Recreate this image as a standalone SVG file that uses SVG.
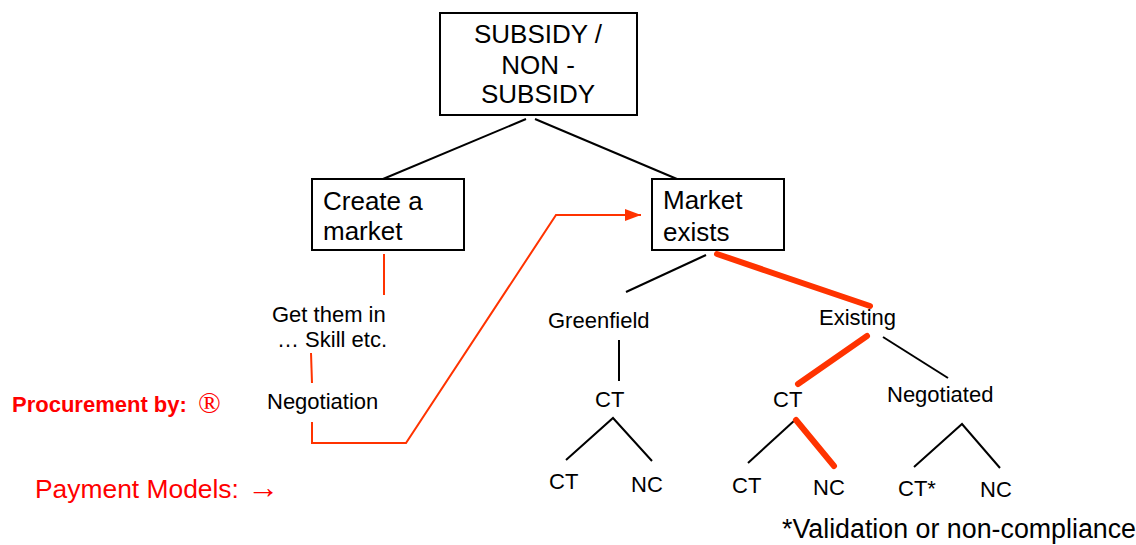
<svg xmlns="http://www.w3.org/2000/svg" width="1136" height="545" viewBox="0 0 1136 545">
<style>
.box{fill:#fff;stroke:#000;stroke-width:2}
.t{font-family:"Liberation Sans",Arial,sans-serif;fill:#000}
.big{font-size:26px}
.sm{font-size:22px}
.ln{stroke:#000;stroke-width:2;fill:none}
.rl{stroke:#ff3300;stroke-width:2;fill:none}
.rt{stroke:#ff3300;stroke-width:6;fill:none;stroke-linecap:round}
.red{fill:#ff0000}
</style>
<defs>
<marker id="ah2" viewBox="0 0 16 12" refX="16" refY="6" markerWidth="16" markerHeight="12" markerUnits="userSpaceOnUse" orient="auto">
<path d="M0,0 L16,6 L0,12 z" fill="#ff3300"/>
</marker>
</defs>
<rect width="1136" height="545" fill="#fff"/>
<g id="connectors">
<line class="ln" x1="526" y1="119" x2="383" y2="179"/>
<line class="ln" x1="535" y1="119" x2="677" y2="179"/>
<line class="ln" x1="706" y1="255" x2="626" y2="292"/>
<line class="rt" x1="717" y1="254" x2="870" y2="306"/>
<line class="rt" x1="867" y1="336" x2="798" y2="384"/>
<line class="ln" x1="883" y1="337" x2="948" y2="378"/>
<line class="ln" x1="619" y1="340" x2="619" y2="381"/>
<polyline class="ln" points="566,460 613,418 652,461"/>
<line class="ln" x1="795" y1="420" x2="748" y2="463"/>
<line class="rt" x1="796" y1="420" x2="834" y2="466"/>
<polyline class="ln" points="914,467 962,424 1000,468"/>
<line class="rl" x1="384" y1="254" x2="384" y2="295"/>
<line class="rl" x1="311" y1="353" x2="312" y2="383"/>
<polyline class="rl" points="312,422 312,443 406,443 556,215 641,215" marker-end="url(#ah2)"/>
</g>
<g id="subsidy">
<rect class="box" x="440" y="13" width="197" height="102"/>
<text class="t big" text-anchor="middle" x="538" y="43">SUBSIDY /</text>
<text class="t big" text-anchor="middle" x="538" y="74">NON -</text>
<text class="t big" text-anchor="middle" x="538" y="103">SUBSIDY</text>
</g>
<g id="create">
<rect class="box" x="312" y="179" width="152" height="71"/>
<text class="t big" x="323" y="210">Create a</text>
<text class="t big" x="323" y="240">market</text>
</g>
<g id="exists">
<rect class="box" x="652" y="179" width="132" height="71"/>
<text class="t big" x="663" y="209">Market</text>
<text class="t big" x="663" y="241">exists</text>
</g>
<g id="getthem">
<text class="t sm" x="272" y="322">Get them in</text>
<text class="t sm" x="277" y="347">… Skill etc.</text>
</g>
<g id="negotiation"><text class="t sm" x="267" y="409">Negotiation</text></g>
<g id="greenfield"><text class="t sm" x="548" y="328">Greenfield</text></g>
<g id="existing"><text class="t sm" x="819" y="325">Existing</text></g>
<g id="ct1"><text class="t sm" x="595" y="407">CT</text></g>
<g id="ct2"><text class="t sm" x="773" y="407">CT</text></g>
<g id="negotiated"><text class="t sm" x="887" y="402">Negotiated</text></g>
<g id="ct1a"><text class="t sm" x="549" y="489">CT</text></g>
<g id="nc1"><text class="t sm" x="631" y="492">NC</text></g>
<g id="ct2a"><text class="t sm" x="732" y="493">CT</text></g>
<g id="nc2"><text class="t sm" x="813" y="495">NC</text></g>
<g id="ct3"><text class="t sm" x="898" y="496">CT*</text></g>
<g id="nc3"><text class="t sm" x="980" y="497">NC</text></g>
<g id="legend">
<text class="t red" x="12" y="412" font-size="22" font-weight="bold">Procurement by:</text>
<text class="red" x="198" y="413" font-size="30" font-family="'Liberation Serif',serif">®</text>
<text class="t red" x="35" y="498" font-size="26.4">Payment Models:</text>
<text class="red" x="247" y="498" font-size="32" font-family="'Liberation Serif',serif">→</text>
<text class="t" x="782" y="538" font-size="26.8">*Validation or non-compliance</text>
</g>
</svg>
